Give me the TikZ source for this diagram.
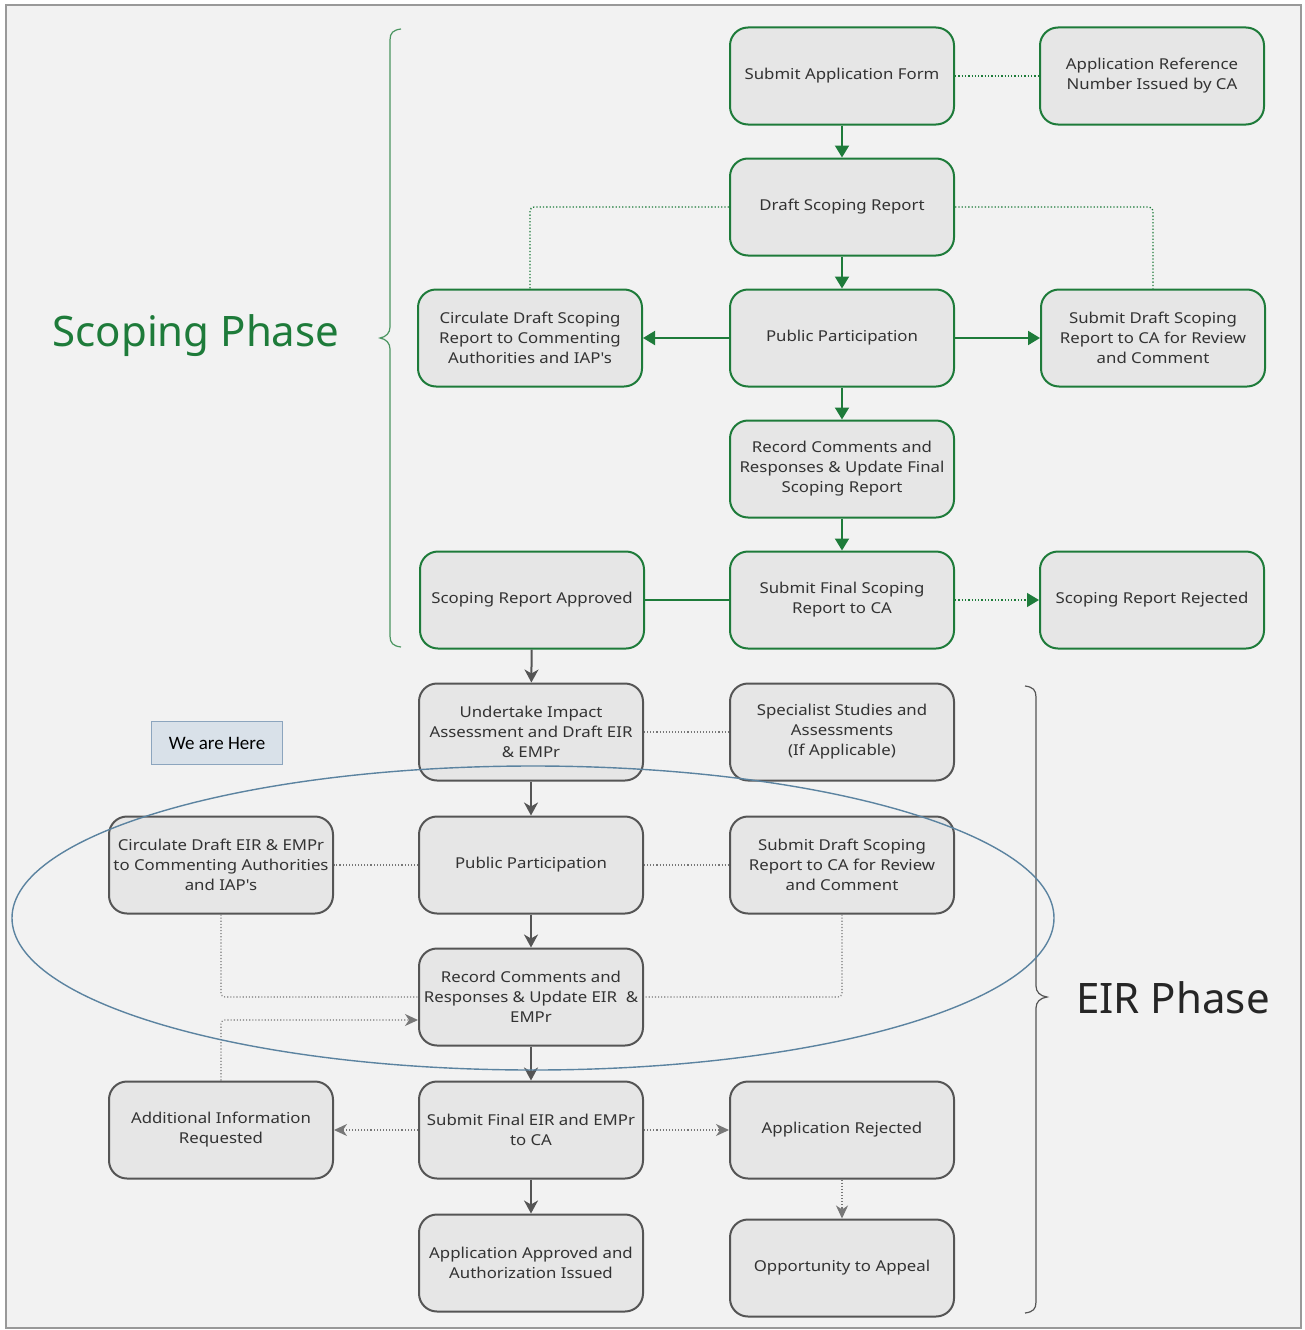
\documentclass[tikz,border=0pt]{standalone}
\usepackage{fontspec}
\setmainfont{Noto Sans}
\newfontfamily\boxfont[FakeStretch=1.12]{Noto Sans}
\newfontfamily\carl{Carlito}
\usetikzlibrary{arrows.meta,calc}
\definecolor{sgreen}{HTML}{1E7B3A}
\definecolor{egray}{HTML}{555555}
\definecolor{boxfill}{HTML}{E6E6E6}
\definecolor{bgfill}{HTML}{F2F2F2}
\definecolor{txt}{HTML}{333333}
\definecolor{ellc}{HTML}{5B83A0}
\definecolor{herefill}{HTML}{D9E1E9}
\definecolor{hereborder}{HTML}{8CA5BE}
\begin{document}
\begin{tikzpicture}[x=1pt,y=-1pt,
  basebox/.style={rounded corners=18pt, line width=2pt, fill=boxfill, minimum width=224pt,
    minimum height=97pt, align=center, text=txt, inner sep=2pt, font=\boxfont\fontsize{15}{20}\selectfont},
  sbox/.style={basebox, draw=sgreen},
  ebox/.style={basebox, draw=egray},
  garrow/.style={draw=sgreen, line width=2pt, -{Triangle[length=12pt,width=14pt]}},
  gline/.style={draw=sgreen, line width=2pt},
  gdot/.style={draw=sgreen, line width=1.3pt, dotted, rounded corners=4pt},
  gdotarrow/.style={gdot, -{Triangle[length=12pt,width=14pt]}},
  earrow/.style={draw=egray, line width=2pt, -{Stealth[length=13pt,width=14pt,inset=4pt]}},
  edot/.style={draw=egray!80, line width=1.1pt, dotted, rounded corners=4pt},
  edotarrow/.style={edot, -{Stealth[length=13pt,width=12pt,inset=4pt]}},
]
\useasboundingbox (0,0) rectangle (1304,1330);
\fill[white] (0,0) rectangle (1304,1330);
\draw[fill=bgfill, draw=gray!80, line width=1.5pt] (6,5) rectangle (1301,1328);

% ---------- Scoping phase ----------
\node[sbox] (sapp) at (842,76) {Submit Application Form};
\node[sbox] (sref) at (1152,76) {Application Reference\\Number Issued by CA};
\node[sbox] (sdraft) at (842,207) {Draft Scoping Report};
\node[sbox] (scirc) at (530,338) {Circulate Draft Scoping\\Report to Commenting\\Authorities and IAP's};
\node[sbox] (spp) at (842,338) {Public Participation};
\node[sbox] (ssub) at (1153,338) {Submit Draft Scoping\\Report to CA for Review\\and Comment};
\node[sbox] (srec) at (842,469) {Record Comments and\\Responses \& Update Final\\Scoping Report};
\node[sbox] (sappr) at (532,600) {Scoping Report Approved};
\node[sbox] (sfin) at (842,600) {Submit Final Scoping\\Report to CA};
\node[sbox] (srej) at (1152,600) {Scoping Report Rejected};

\draw[garrow] (sapp) -- (sdraft);
\draw[gdot] (sapp) -- (sref);
\draw[garrow] (sdraft) -- (spp);
\draw[gdot] (sdraft.west) -| (scirc.north);
\draw[gdot] (sdraft.east) -| (ssub.north);
\draw[garrow] (spp) -- (scirc);
\draw[garrow] (spp) -- (ssub);
\draw[garrow] (spp) -- (srec);
\draw[garrow] (srec) -- (sfin);
\draw[gline] (sfin) -- (sappr);
\draw[gdotarrow] (sfin) -- (srej);

% ---------- EIR phase ----------
\node[ebox] (eund) at (531,732) {Undertake Impact\\Assessment and Draft EIR\\\& EMPr};
\node[ebox] (espec) at (842,732) {Specialist Studies and\\Assessments\\(If Applicable)};
\node[ebox] (ecirc) at (221,865) {Circulate Draft EIR \& EMPr\\to Commenting Authorities\\and IAP's};
\node[ebox] (epp) at (531,865) {Public Participation};
\node[ebox] (esub) at (842,865) {Submit Draft Scoping\\Report to CA for Review\\and Comment};
\node[ebox] (erec) at (531,997) {Record Comments and\\Responses \& Update EIR\ \ \&\\EMPr};
\node[ebox] (eadd) at (221,1130) {Additional Information\\Requested};
\node[ebox] (efin) at (531,1130) {Submit Final EIR and EMPr\\to CA};
\node[ebox] (erej) at (842,1130) {Application Rejected};
\node[ebox] (eappr) at (531,1263) {Application Approved and\\Authorization Issued};
\node[ebox] (eapp) at (842,1268) {Opportunity to Appeal};

\draw[earrow] (sappr) -- (eund);
\draw[earrow] (eund) -- (epp);
\draw[edot] (eund) -- (espec);
\draw[edot] (epp) -- (ecirc);
\draw[edot] (epp) -- (esub);
\draw[earrow] (epp) -- (erec);
\draw[edot] (ecirc.south) |- (erec.west);
\draw[edot] (esub.south) |- (erec.east);
\coordinate (recin) at ($(erec.west)+(0,23)$);
\draw[edotarrow] (eadd.north) |- (recin);
\draw[earrow] (erec) -- (efin);
\draw[edotarrow] (efin) -- (eadd);
\draw[edotarrow] (efin) -- (erej);
\draw[earrow] (efin) -- (eappr);
\draw[edotarrow] (erej) -- (eapp);

% ---------- Braces and phase labels ----------
\draw[sgreen!80, line width=1.2pt] (401,29) .. controls (393,30) and (390,33) .. (390,40) -- (390,327)
  .. controls (390,333) and (386,337) .. (380,338) .. controls (386,339) and (390,343) .. (390,349)
  -- (390,636) .. controls (390,643) and (393,646) .. (401,647);
\node[text=sgreen, font=\fontsize{42}{46}\selectfont] (scopelbl) at (196,336) {Scoping Phase};
\draw[egray, line width=1.2pt] (1025,686) .. controls (1033,687) and (1036,690) .. (1036,697) -- (1036,986)
  .. controls (1036,992) and (1040,996) .. (1047,997) .. controls (1040,998) and (1036,1002) .. (1036,1008)
  -- (1036,1302) .. controls (1036,1309) and (1033,1312) .. (1025,1313);
\node[text=black!85, font=\fontsize{42}{46}\selectfont] (eirlbl) at (1173,998) {EIR Phase};

% ---------- We are here ----------
\node[draw=hereborder, fill=herefill, line width=1pt, minimum width=131pt, minimum height=43pt,
  font=\carl\fontsize{19}{22}\selectfont, text=black] (here) at (217,743) {We are Here};

\draw[ellc, line width=1.4pt] (533,918) ellipse [x radius=521, y radius=152];
\end{tikzpicture}
\end{document}
